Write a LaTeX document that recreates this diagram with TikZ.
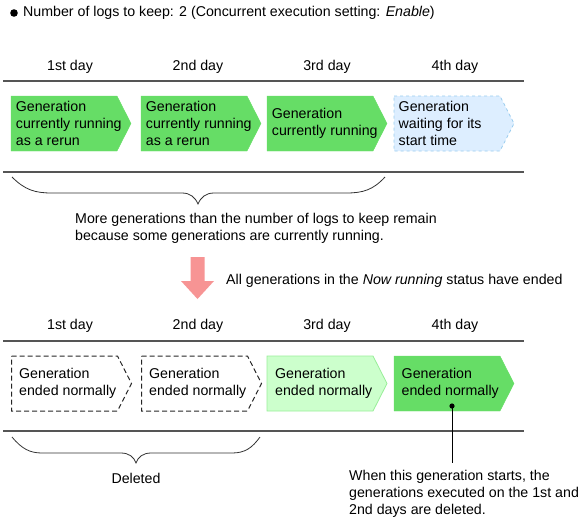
\documentclass[tikz,border=0pt]{standalone}
\usepackage{fontspec}
\setmainfont{Liberation Sans}
\definecolor{gen}{HTML}{66DD66}
\definecolor{genlight}{HTML}{CCFFCC}
\definecolor{genlightb}{HTML}{99EE99}
\definecolor{waitfill}{HTML}{DDEEFF}
\definecolor{waitdraw}{HTML}{99CCEE}
\definecolor{rule}{HTML}{555555}
\definecolor{pinkarrow}{HTML}{F79494}
\tikzset{
  txt/.style={font=\fontsize{14.2}{17}\selectfont, inner sep=0pt, text=black},
  boxtxt/.style={txt, anchor=west, align=left},
  running/.style={fill=gen, draw=gen},
  waiting/.style={fill=waitfill, draw=waitdraw, dashed, line width=0.8pt},
  endeddel/.style={draw=black!85, dash pattern=on 5pt off 3pt, line width=1pt},
  endedold/.style={fill=genlight, draw=genlightb, line width=0.8pt},
  timeline/.style={draw=rule, line width=1.4pt},
  bracestyle/.style={draw=black!80, line width=0.8pt},
}
% #1 left x, #2 top y, #3 style, #4 name, #5 text offset, #6 text
\newcommand{\genshape}[6]{%
  \path[#3] (#1,#2) -- ++(106,0) -- ++(14,27.5) -- ++(-14,27.5) -- ++(-106,0) -- cycle;
  \node[boxtxt] (#4) at (#1+#5,#2+27.5) {#6};
}
\begin{document}
\begin{tikzpicture}[x=1pt,y=-1pt]
\useasboundingbox (0,0) rectangle (587,523);
% title
\fill (14,13) circle (3.8);
\node[txt, anchor=west] (title) at (23,13) {Number of logs to keep: 2 (Concurrent execution setting: \textit{Enable})};
% row 1
\node[txt] (d1a) at (70,67) {1st day};
\node[txt] (d2a) at (198,67) {2nd day};
\node[txt] (d3a) at (327,67) {3rd day};
\node[txt] (d4a) at (455,67) {4th day};
\draw[timeline] (3,81) -- (524,81);
\genshape{11}{96}{running}{g1a}{4.7}{Generation\\currently running\\as a rerun}
\genshape{141}{96}{running}{g2a}{4.7}{Generation\\currently running\\as a rerun}
\genshape{267}{96}{running}{g3a}{4.7}{Generation\\currently running}
\genshape{394}{96}{waiting}{g4a}{4.5}{Generation\\waiting for its\\start time}
\draw[timeline] (3,172) -- (524,172);
\draw[bracestyle] (12,177) .. controls (25,190) and (35,193) .. (52,193) -- (182,193) .. controls (190,193) and (195,197) .. (198,204) .. controls (201,197) and (206,193) .. (214,193) -- (346,193) .. controls (363,193) and (373,190) .. (385,177);
\node[txt, anchor=west, align=left] (note1) at (75,228) {More generations than the number of logs to keep remain\\because some generations are currently running.};
% transition arrow
\fill[pinkarrow] (190.5,257) -- (204.5,257) -- (204.5,281) -- (214,281) -- (197.5,299) -- (181,281) -- (190.5,281) -- cycle;
\node[txt, anchor=west] (trans) at (226,281) {All generations in the \textit{Now running} status have ended};
% row 2
\node[txt] (d1b) at (70,326) {1st day};
\node[txt] (d2b) at (198,326) {2nd day};
\node[txt] (d3b) at (327,326) {3rd day};
\node[txt] (d4b) at (455,326) {4th day};
\draw[timeline] (3,341) -- (524,341);
\genshape{11.5}{356}{endeddel}{g1b}{7.5}{Generation\\ended normally}
\genshape{141.5}{356}{endeddel}{g2b}{7.5}{Generation\\ended normally}
\genshape{267}{356}{endedold}{g3b}{8}{Generation\\ended normally}
\genshape{394}{356}{running}{g4b}{7.5}{Generation\\ended normally}
\draw[timeline] (3,431) -- (524,431);
\draw[bracestyle] (12,437) .. controls (22,449) and (30,453) .. (42,453) -- (121,453) .. controls (129,453) and (134,457) .. (136,463) .. controls (138,457) and (143,453) .. (151,453) -- (232,453) .. controls (245,453) and (252,448) .. (260,437);
\node[txt] (deleted) at (136,478) {Deleted};
% callout
\coordinate (dot) at (452,406);
\coordinate (calloutend) at (452,463);
\fill (dot) circle (2.6);
\draw[line width=0.8pt] (dot) -- (calloutend);
\node[txt, anchor=north west, align=left] (note2) at (349,470) {When this generation starts, the\\generations executed on the 1st and\\2nd days are deleted.};
\end{tikzpicture}
\end{document}
